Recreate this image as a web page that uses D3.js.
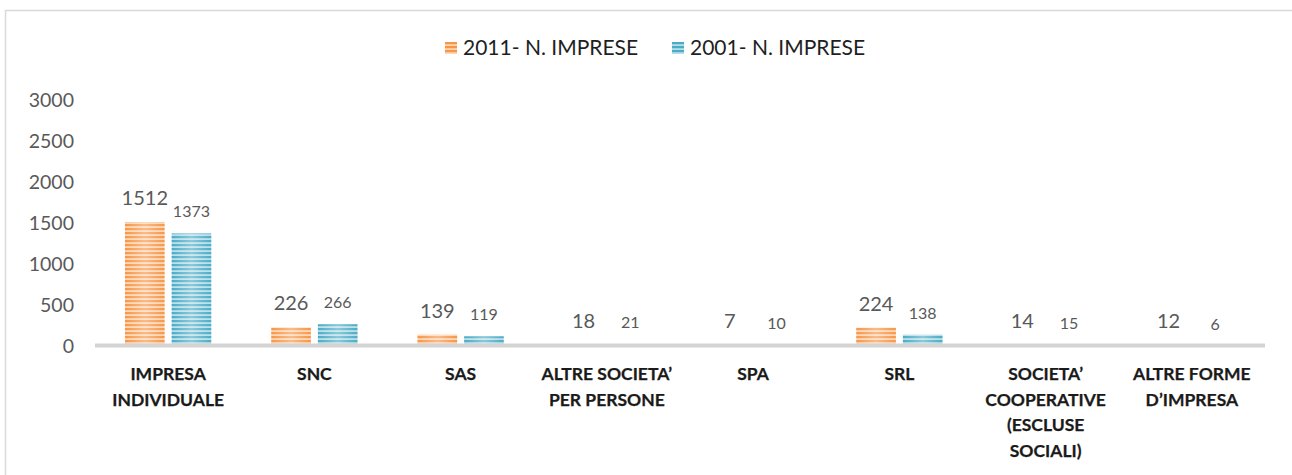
<!DOCTYPE html>
<html>
<head>
<meta charset="utf-8">
<script src="https://cdn.jsdelivr.net/npm/d3@7"></script>
<style>
  html, body { margin: 0; padding: 0; background: #fff; }
  svg { display: block; }
  text { font-family: Lato, "Open Sans", sans-serif; }
</style>
</head>
<body>
<svg id="chart" width="1292" height="475"></svg>
<script>
const categories = [
  ["IMPRESA", "INDIVIDUALE"],
  ["SNC"],
  ["SAS"],
  ["ALTRE SOCIETA\u2019", "PER PERSONE"],
  ["SPA"],
  ["SRL"],
  ["SOCIETA\u2019", "COOPERATIVE", "(ESCLUSE", "SOCIALI)"],
  ["ALTRE FORME", "D\u2019IMPRESA"]
];
const seriesNames = ["2011- N. IMPRESE", "2001- N. IMPRESE"];
const values2011 = [1512, 226, 139, 18, 7, 224, 14, 12];
const values2001 = [1373, 266, 119, 21, 10, 138, 15, 6];
const yTicks = [0, 500, 1000, 1500, 2000, 2500, 3000];

const svg = d3.select("#chart");
const keys = categories.map(c => c.join(" "));
const seriesValues = [values2011, values2001];

const defs = svg.append("defs");
const palettes = [
  { id: "p0", dark: "#F79646", light: "#FCD5B4" },
  { id: "p1", dark: "#4BACC6", light: "#B7DEE8" }
];
palettes.forEach(p => {
  const pat = defs.append("pattern")
    .attr("id", p.id).attr("patternUnits", "userSpaceOnUse")
    .attr("width", 8).attr("height", 4);
  pat.append("rect").attr("width", 8).attr("height", 4).attr("fill", p.light);
  pat.append("rect").attr("y", 0).attr("width", 8).attr("height", 2.2).attr("fill", p.dark);
});
const glow = defs.append("linearGradient").attr("id", "glow")
  .attr("x1", "0").attr("x2", "1").attr("y1", "0").attr("y2", "0");
glow.append("stop").attr("offset", "0").attr("stop-color", "#fff").attr("stop-opacity", 0);
glow.append("stop").attr("offset", "0.5").attr("stop-color", "#fff").attr("stop-opacity", 0.35);
glow.append("stop").attr("offset", "1").attr("stop-color", "#fff").attr("stop-opacity", 0);

// outer frame
svg.append("rect").attr("x", 5.5).attr("y", 10.5).attr("width", 1300).attr("height", 480)
  .attr("fill", "none").attr("stroke", "#d9d9d9").attr("stroke-width", 1.5);

const x = d3.scaleBand().domain(keys).range([95, 1265]).paddingInner(0.41).paddingOuter(0.205);
const xs = d3.scaleBand().domain([0, 1]).range([0, x.bandwidth()]).paddingInner(0.15);
const y = d3.scaleLinear().domain([0, 3000]).range([346, 100]);

// y axis
const yAxis = svg.append("g").attr("transform", "translate(74,0)")
  .call(d3.axisLeft(y).tickValues(yTicks).tickSize(0).tickPadding(0).tickFormat(d3.format("d")));
yAxis.select(".domain").remove();
yAxis.selectAll("text").attr("font-size", 19.5).attr("fill", "#595959")
  .attr("font-family", "Lato, 'Open Sans', sans-serif");

// bars
const groups = svg.append("g").selectAll("g").data(keys).join("g")
  .attr("transform", d => `translate(${x(d)},0)`);
[0, 1].forEach(s => {
  groups.append("rect")
    .attr("x", xs(s)).attr("width", xs.bandwidth())
    .attr("y", (d, i) => y(seriesValues[s][i]))
    .attr("height", (d, i) => y(0) - y(seriesValues[s][i]))
    .attr("fill", `url(#p${s})`);
  groups.append("rect")
    .attr("x", xs(s)).attr("width", xs.bandwidth())
    .attr("y", (d, i) => y(seriesValues[s][i]))
    .attr("height", (d, i) => y(0) - y(seriesValues[s][i]))
    .attr("fill", "url(#glow)");
});

// x axis line
svg.append("line").attr("x1", 95).attr("x2", 1265).attr("y1", y(0) - 0.5).attr("y2", y(0) - 0.5)
  .attr("stroke", "#d4d4d4").attr("stroke-width", 4);

// data labels
groups.append("text")
  .attr("x", xs(0) + xs.bandwidth() / 2)
  .attr("y", (d, i) => y(values2011[i]) - 17)
  .attr("text-anchor", "middle").attr("font-size", 20).attr("fill", "#595959")
  .text((d, i) => values2011[i]);
groups.append("text")
  .attr("x", xs(1) + xs.bandwidth() / 2)
  .attr("y", (d, i) => y(values2001[i]) - 16)
  .attr("text-anchor", "middle").attr("font-size", 16).attr("fill", "#595959")
  .text((d, i) => values2001[i]);

// category labels
groups.append("text")
  .attr("text-anchor", "middle").attr("font-size", 17.5).attr("font-weight", "bold")
  .attr("fill", "#1a1a1a").attr("stroke", "#1a1a1a").attr("stroke-width", 0.25)
  .each(function(d, i) {
    const t = d3.select(this);
    categories[i].forEach((line, j) => {
      t.append("tspan").attr("x", x.bandwidth() / 2).attr("y", 380 + j * 25.5).text(line);
    });
  });

// legend
const legendX = [445, 672];
seriesNames.forEach((name, s) => {
  const g = svg.append("g").attr("transform", `translate(${legendX[s]},42)`);
  g.append("rect").attr("width", 12).attr("height", 12).attr("fill", `url(#p${s})`);
  g.append("text").attr("x", 18).attr("y", 13).attr("font-size", 21).attr("fill", "#1f1f1f")
    .text(name);
});
</script>
</body>
</html>
